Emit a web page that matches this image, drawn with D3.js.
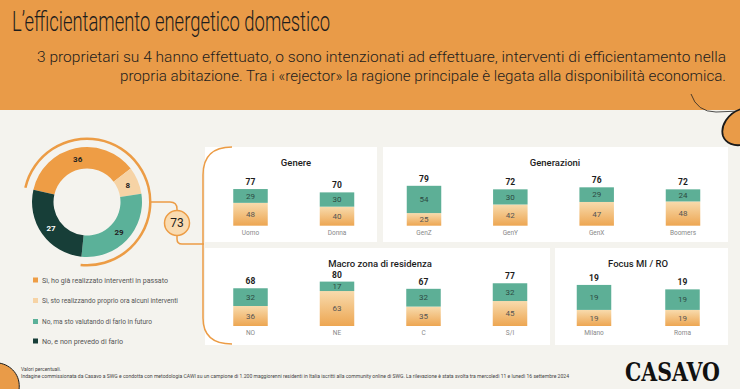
<!DOCTYPE html>
<html><head><meta charset="utf-8">
<script src="https://cdn.jsdelivr.net/npm/d3@7"></script>
<style>body{margin:0;background:#F4F3EE}svg{display:block}text{font-family:Roboto,"Noto Sans",sans-serif}</style>
</head><body><svg id="c" width="740" height="389"></svg>
<script>
const titleText = "L’efficientamento energetico domestico";
const subtitleLines = [
  "3 proprietari su 4 hanno effettuato, o sono intenzionati ad effettuare, interventi di efficientamento nella",
  "propria abitazione. Tra i «rejector» la ragione principale è legata alla disponibilità economica."
];
const donutLabels = [
  "Sì, ho già realizzato interventi in passato",
  "Sì, sto realizzando proprio ora alcuni interventi",
  "No, ma sto valutando di farlo in futuro",
  "No, e non prevedo di farlo"
];
const donutValues = [36, 8, 29, 27];
const intentTotal = 73;

const genereCats = ["Uomo", "Donna"];
const genereDone = [48, 40];
const genereFuture = [29, 30];

const generazioniCats = ["GenZ", "GenY", "GenX", "Boomers"];
const generazioniDone = [25, 42, 47, 48];
const generazioniFuture = [54, 30, 29, 24];

const macroCats = ["NO", "NE", "C", "S/I"];
const macroDone = [36, 63, 35, 45];
const macroFuture = [32, 17, 32, 32];

const focusCats = ["Milano", "Roma"];
const focusDone = [29, 29];
const focusFuture = [45, 37];
const focusDoneLabels = ["19", "19"];
const focusFutureLabels = ["19", "19"];
const focusTotalLabels = ["19", "19"];

const footerLines = [
  "Valori percentuali.",
  "Indagine commissionata da Casavo a SWG e condotta con metodologia CAWI su un campione di 1.200 maggiorenni residenti in Italia iscritti alla community online di SWG. La rilevazione è stata svolta tra mercoledì 11 e lunedì 16 settembre 2024"
];

const C = {
  header: "#E99B48", bg: "#F4F3EE", orange: "#EE9D45", peach: "#F6D3A5",
  teal: "#5BB199", dark: "#173E38", barTeal: "#5DAF96", line: "#EC9C45"
};
const donutColors = [C.orange, C.peach, C.teal, C.dark];

const svg = d3.select("#c");
const defs = svg.append("defs");
const grad = defs.append("linearGradient").attr("id", "og").attr("x1", 0).attr("y1", 0).attr("x2", 0).attr("y2", 1);
grad.append("stop").attr("offset", "0%").attr("stop-color", "#F8DBAD");
grad.append("stop").attr("offset", "100%").attr("stop-color", "#EDA652");

svg.append("rect").attr("width", 740).attr("height", 389).attr("fill", C.bg);
svg.append("rect").attr("width", 740).attr("height", 110).attr("fill", C.header);

// header texts
svg.append("text").attr("x", 12).attr("y", 31).attr("font-size", 27).attr("font-weight", 300)
  .attr("fill", "#1d1d1d").attr("textLength", 318).attr("lengthAdjust", "spacingAndGlyphs").text(titleText);
const subX = [37, 120], subW = [689, 606], subY = [62, 81];
subtitleLines.forEach((s, i) => {
  svg.append("text").attr("x", subX[i]).attr("y", subY[i]).attr("font-size", 15).attr("font-weight", 300)
    .attr("fill", "#1d1d1d").attr("textLength", subW[i]).attr("lengthAdjust", "spacingAndGlyphs").text(s);
});

// decorations
svg.append("path").attr("d", "M691,94 Q697,112 716,112 L740,111").attr("fill", "none").attr("stroke", "#222").attr("stroke-width", 0.8);
svg.append("path").attr("d", "M741,109 C728,113 720,126 723,136 C726,144 735,146 741,145 Z")
  .attr("fill", C.header).attr("stroke", "#1a1a1a").attr("stroke-width", 1.8);
svg.append("path").attr("d", "M-1,363 C11,365 21,375 19,390 L-1,390 Z")
  .attr("fill", C.header).attr("stroke", "#1a1a1a").attr("stroke-width", 1);

// donut
const cx = 87, cy = 202;
const a0 = -77 * Math.PI / 180;
const pie = d3.pie().sort(null).startAngle(a0).endAngle(a0 + 2 * Math.PI);
const arcs = pie(donutValues);
const arc = d3.arc().innerRadius(33.5).outerRadius(55);
const dg = svg.append("g").attr("transform", `translate(${cx},${cy})`);
dg.selectAll("path.s").data(arcs).join("path").attr("class", "s").attr("d", arc).attr("fill", (d, i) => donutColors[i]);
dg.selectAll("text").data(arcs).join("text")
  .attr("transform", d => `translate(${arc.centroid(d)})`)
  .attr("text-anchor", "middle").attr("dy", "0.35em").attr("font-size", 8).attr("font-weight", 700)
  .attr("fill", (d, i) => i === 3 ? "#fff" : "#222").text(d => d.data);
const outerArc = d3.arc().innerRadius(62).outerRadius(64.5)
  .startAngle(a0).endAngle(a0 + 2 * Math.PI * intentTotal / 100);
dg.append("path").attr("d", outerArc()).attr("fill", C.line);

// connector and bubble
svg.append("path").attr("d", "M150,202 L170,202 Q177,202 177,209 L177,211").attr("fill", "none").attr("stroke", C.line).attr("stroke-width", 1.5);
svg.append("path").attr("d", "M177,235 L177,239 Q177,244 182,244 L204,244").attr("fill", "none").attr("stroke", C.line).attr("stroke-width", 1.5);
svg.append("circle").attr("cx", 177).attr("cy", 223).attr("r", 12.5).attr("fill", "#F9DBB1").attr("stroke", C.line).attr("stroke-width", 1.5);
svg.append("text").attr("x", 177).attr("y", 223).attr("dy", "0.36em").attr("text-anchor", "middle")
  .attr("font-size", 12).attr("fill", "#1d1d1d").text(intentTotal);

// legend
const legY = [280, 300.5, 321.5, 341];
const legW = [126, 136, 110, 81];
donutLabels.forEach((t, i) => {
  svg.append("rect").attr("x", 33).attr("y", legY[i] - 2.5).attr("width", 5).attr("height", 5).attr("fill", donutColors[i]);
  svg.append("text").attr("x", 42).attr("y", legY[i]).attr("dy", "0.35em").attr("font-size", 7.5)
    .attr("fill", "#555").attr("textLength", legW[i]).attr("lengthAdjust", "spacingAndGlyphs").text(t);
});

// panels
function panel(p) {
  svg.append("rect").attr("x", p.x0).attr("y", p.y0).attr("width", p.x1 - p.x0).attr("height", p.y1 - p.y0).attr("fill", "#fff");
  svg.append("text").attr("x", p.tx).attr("y", p.ty).attr("text-anchor", "middle").attr("font-size", 9.5)
    .attr("font-weight", 500).attr("fill", "#1d1d1d").text(p.title);
  const x = d3.scalePoint().domain(p.cats).range(p.xr);
  const y = d3.scaleLinear().domain([0, 100]).range([p.base, p.base - 100 * p.k]);
  const bw = 34.5;
  const g = svg.append("g");
  p.cats.forEach((c, i) => {
    const xc = x(c), d = p.done[i], f = p.future[i];
    g.append("rect").attr("x", xc - bw / 2).attr("y", y(d)).attr("width", bw).attr("height", y(0) - y(d)).attr("fill", "url(#og)");
    g.append("rect").attr("x", xc - bw / 2).attr("y", y(d + f)).attr("width", bw).attr("height", y(d) - y(d + f)).attr("fill", C.barTeal);
    const dl = p.doneLabels ? p.doneLabels[i] : d;
    const fl = p.futureLabels ? p.futureLabels[i] : f;
    const tl = p.totalLabels ? p.totalLabels[i] : d + f;
    g.append("text").attr("x", xc).attr("y", (y(0) + y(d)) / 2).attr("dy", "0.35em").attr("text-anchor", "middle")
      .attr("font-size", 8).attr("fill", "#555").text(dl);
    g.append("text").attr("x", xc).attr("y", (y(d) + y(d + f)) / 2).attr("dy", "0.35em").attr("text-anchor", "middle")
      .attr("font-size", 8).attr("fill", "#2d4a42").text(fl);
    g.append("text").attr("x", xc).attr("y", y(d + f) - 4).attr("text-anchor", "middle")
      .attr("font-size", 8.5).attr("font-weight", 700).attr("fill", "#1d1d1d").text(tl);
    g.append("text").attr("x", xc).attr("y", p.base + 8.8).attr("text-anchor", "middle")
      .attr("font-size", 6.5).attr("fill", "#888").text(c);
  });
}
panel({title: "Genere", x0: 205, x1: 377, y0: 147, y1: 242, tx: 296, ty: 166,
  cats: genereCats, done: genereDone, future: genereFuture, xr: [250.5, 337], base: 225.7, k: 0.476});
panel({title: "Generazioni", x0: 383, x1: 728, y0: 147, y1: 242, tx: 555, ty: 166,
  cats: generazioniCats, done: generazioniDone, future: generazioniFuture, xr: [424, 683], base: 225.7, k: 0.505});
panel({title: "Macro zona di residenza", x0: 205, x1: 550, y0: 248, y1: 345, tx: 380, ty: 267,
  cats: macroCats, done: macroDone, future: macroFuture, xr: [250.5, 510], base: 326, k: 0.555});
panel({title: "Focus MI / RO", x0: 555, x1: 728, y0: 248, y1: 345, tx: 638, ty: 267,
  cats: focusCats, done: focusDone, future: focusFuture, xr: [594, 682.5], base: 326, k: 0.555,
  doneLabels: focusDoneLabels, futureLabels: focusFutureLabels, totalLabels: focusTotalLabels});

// bracket
svg.append("path").attr("d", "M232,147 Q203,147 203,175 L203,318 Q203,344 232,344")
  .attr("fill", "none").attr("stroke", C.line).attr("stroke-width", 1.5);

// footer
svg.append("text").attr("x", 21).attr("y", 371).attr("font-size", 5.5).attr("fill", "#444")
  .attr("textLength", 40).attr("lengthAdjust", "spacingAndGlyphs").text(footerLines[0]);
svg.append("text").attr("x", 21).attr("y", 378).attr("font-size", 5.5).attr("fill", "#444")
  .attr("textLength", 548).attr("lengthAdjust", "spacingAndGlyphs").text(footerLines[1]);
const logo = svg.append("g");
const logoText = logo.append("text").attr("x", 0).attr("y", 0).attr("font-size", 26).attr("font-weight", 700)
  .style("font-family", "'DejaVu Serif', 'Liberation Serif', serif").attr("fill", "#111").text("CASAVO");
const natW = logoText.node().getComputedTextLength() || 125;
logo.attr("transform", `translate(625,381) scale(${95 / natW},1)`);
</script></body></html>
